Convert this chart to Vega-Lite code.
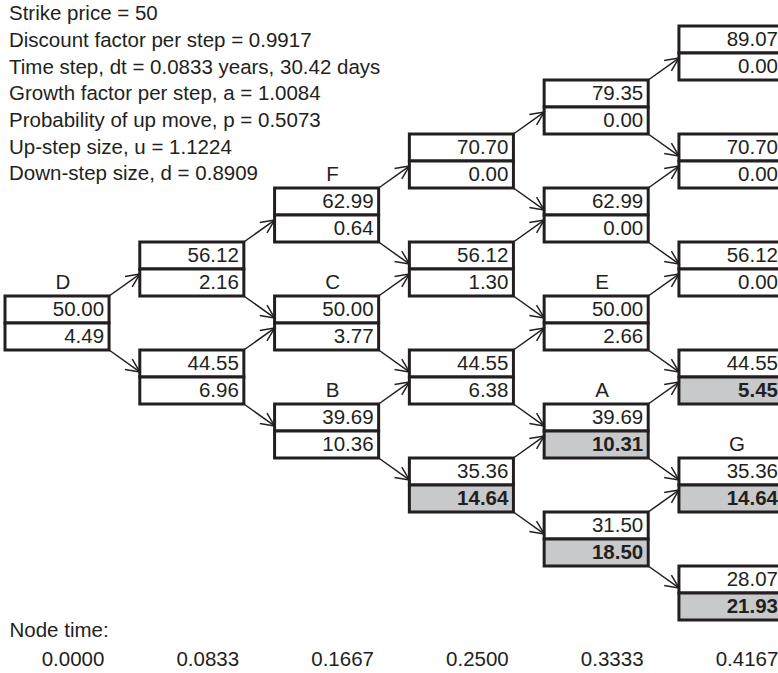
{
  "$schema": "https://vega.github.io/schema/vega-lite/v6.json",
  "width": 778,
  "height": 620,
  "autosize": "none",
  "padding": {"left": 0, "top": 0, "right": 0, "bottom": 53},
  "background": "white",
  "config": {"view": {"stroke": null}, "font": "Liberation Sans"},
  "title": {
    "text": ["Strike price = 50", "Discount factor per step = 0.9917", "Time step, dt = 0.0833 years, 30.42 days", "Growth factor per step, a = 1.0084", "Probability of up move, p = 0.5073", "Up-step size, u = 1.1224", "Down-step size, d = 0.8909"],
    "anchor": "start", "frame": "group", "orient": "top", "align": "left", "baseline": "top",
    "fontSize": 20.5, "fontWeight": "normal", "font": "Liberation Sans", "color": "#231f20",
    "lineHeight": 26.67, "offset": 0, "dx": 9, "dy": 185
  },
  "datasets": {
    "nodes": [
      {"t": "0.0000", "row": 5, "S": 50.00, "V": 4.49, "ex": false, "name": "D"},
      {"t": "0.0833", "row": 4, "S": 56.12, "V": 2.16, "ex": false, "name": null},
      {"t": "0.0833", "row": 6, "S": 44.55, "V": 6.96, "ex": false, "name": null},
      {"t": "0.1667", "row": 3, "S": 62.99, "V": 0.64, "ex": false, "name": "F"},
      {"t": "0.1667", "row": 5, "S": 50.00, "V": 3.77, "ex": false, "name": "C"},
      {"t": "0.1667", "row": 7, "S": 39.69, "V": 10.36, "ex": false, "name": "B"},
      {"t": "0.2500", "row": 2, "S": 70.70, "V": 0.00, "ex": false, "name": null},
      {"t": "0.2500", "row": 4, "S": 56.12, "V": 1.30, "ex": false, "name": null},
      {"t": "0.2500", "row": 6, "S": 44.55, "V": 6.38, "ex": false, "name": null},
      {"t": "0.2500", "row": 8, "S": 35.36, "V": 14.64, "ex": true, "name": null},
      {"t": "0.3333", "row": 1, "S": 79.35, "V": 0.00, "ex": false, "name": null},
      {"t": "0.3333", "row": 3, "S": 62.99, "V": 0.00, "ex": false, "name": null},
      {"t": "0.3333", "row": 5, "S": 50.00, "V": 2.66, "ex": false, "name": "E"},
      {"t": "0.3333", "row": 7, "S": 39.69, "V": 10.31, "ex": true, "name": "A"},
      {"t": "0.3333", "row": 9, "S": 31.50, "V": 18.50, "ex": true, "name": null},
      {"t": "0.4167", "row": 0, "S": 89.07, "V": 0.00, "ex": false, "name": null},
      {"t": "0.4167", "row": 2, "S": 70.70, "V": 0.00, "ex": false, "name": null},
      {"t": "0.4167", "row": 4, "S": 56.12, "V": 0.00, "ex": false, "name": null},
      {"t": "0.4167", "row": 6, "S": 44.55, "V": 5.45, "ex": true, "name": null},
      {"t": "0.4167", "row": 8, "S": 35.36, "V": 14.64, "ex": true, "name": "G"},
      {"t": "0.4167", "row": 10, "S": 28.07, "V": 21.93, "ex": true, "name": null}
    ],
    "edges": [
      {"from_t": "0.0000", "from_row": 5, "to_t": "0.0833", "to_row": 4},
      {"from_t": "0.0000", "from_row": 5, "to_t": "0.0833", "to_row": 6},
      {"from_t": "0.0833", "from_row": 4, "to_t": "0.1667", "to_row": 3},
      {"from_t": "0.0833", "from_row": 4, "to_t": "0.1667", "to_row": 5},
      {"from_t": "0.0833", "from_row": 6, "to_t": "0.1667", "to_row": 5},
      {"from_t": "0.0833", "from_row": 6, "to_t": "0.1667", "to_row": 7},
      {"from_t": "0.1667", "from_row": 3, "to_t": "0.2500", "to_row": 2},
      {"from_t": "0.1667", "from_row": 3, "to_t": "0.2500", "to_row": 4},
      {"from_t": "0.1667", "from_row": 5, "to_t": "0.2500", "to_row": 4},
      {"from_t": "0.1667", "from_row": 5, "to_t": "0.2500", "to_row": 6},
      {"from_t": "0.1667", "from_row": 7, "to_t": "0.2500", "to_row": 6},
      {"from_t": "0.1667", "from_row": 7, "to_t": "0.2500", "to_row": 8},
      {"from_t": "0.2500", "from_row": 2, "to_t": "0.3333", "to_row": 1},
      {"from_t": "0.2500", "from_row": 2, "to_t": "0.3333", "to_row": 3},
      {"from_t": "0.2500", "from_row": 4, "to_t": "0.3333", "to_row": 3},
      {"from_t": "0.2500", "from_row": 4, "to_t": "0.3333", "to_row": 5},
      {"from_t": "0.2500", "from_row": 6, "to_t": "0.3333", "to_row": 5},
      {"from_t": "0.2500", "from_row": 6, "to_t": "0.3333", "to_row": 7},
      {"from_t": "0.2500", "from_row": 8, "to_t": "0.3333", "to_row": 7},
      {"from_t": "0.2500", "from_row": 8, "to_t": "0.3333", "to_row": 9},
      {"from_t": "0.3333", "from_row": 1, "to_t": "0.4167", "to_row": 0},
      {"from_t": "0.3333", "from_row": 1, "to_t": "0.4167", "to_row": 2},
      {"from_t": "0.3333", "from_row": 3, "to_t": "0.4167", "to_row": 2},
      {"from_t": "0.3333", "from_row": 3, "to_t": "0.4167", "to_row": 4},
      {"from_t": "0.3333", "from_row": 5, "to_t": "0.4167", "to_row": 4},
      {"from_t": "0.3333", "from_row": 5, "to_t": "0.4167", "to_row": 6},
      {"from_t": "0.3333", "from_row": 7, "to_t": "0.4167", "to_row": 6},
      {"from_t": "0.3333", "from_row": 7, "to_t": "0.4167", "to_row": 8},
      {"from_t": "0.3333", "from_row": 9, "to_t": "0.4167", "to_row": 8},
      {"from_t": "0.3333", "from_row": 9, "to_t": "0.4167", "to_row": 10}
    ]
  },
  "layer": [
    {
      "data": {"name": "nodes"},
      "transform": [{"fold": ["S", "V"], "as": ["part", "val"]}],
      "mark": {"type": "rect", "stroke": "#231f20", "strokeWidth": 3},
      "encoding": {
        "x": {
          "field": "t", "type": "ordinal",
          "scale": {"domain": ["0.0000", "0.0833", "0.1667", "0.2500", "0.3333", "0.4167"], "range": [5, 783], "paddingInner": 0.228, "paddingOuter": 0},
          "axis": {
            "title": "Node time:", "orient": "bottom", "domain": false, "ticks": false, "grid": false,
            "labelAngle": 0, "labelFontSize": 20.5, "labelFont": "Liberation Sans", "labelColor": "#231f20",
            "labelPadding": 39, "labelBaseline": "middle", "labelOffset": 16, "labelOverlap": false,
            "titleFontSize": 20.5, "titleFont": "Liberation Sans", "titleFontWeight": "normal", "titleColor": "#231f20",
            "titleAnchor": "start", "titleAlign": "left", "titleBaseline": "middle", "titleX": 9, "titleY": 10
          }
        },
        "y": {
          "field": "row", "type": "ordinal",
          "scale": {"domain": [0, 1, 2, 3, 4, 5, 6, 7, 8, 9, 10], "range": [26, 620], "paddingInner": 0, "paddingOuter": 0},
          "axis": null
        },
        "yOffset": {"field": "part", "type": "nominal", "scale": {"domain": ["S", "V"], "paddingInner": 0, "paddingOuter": 0}},
        "fill": {"condition": {"test": "datum.part === 'V' && datum.ex", "value": "#c8c9cb"}, "value": "white"}
      }
    },
    {
      "data": {"name": "nodes"},
      "mark": {"type": "text", "align": "right", "baseline": "middle", "dx": -5, "fontSize": 20.5, "font": "Liberation Sans", "color": "#231f20"},
      "encoding": {
        "x": {"field": "t", "type": "ordinal", "bandPosition": 1},
        "y": {"field": "row", "type": "ordinal", "bandPosition": 0.25},
        "text": {"field": "S", "type": "quantitative", "format": ".2f"}
      }
    },
    {
      "data": {"name": "nodes"},
      "transform": [{"filter": "!datum.ex"}],
      "mark": {"type": "text", "align": "right", "baseline": "middle", "dx": -5, "fontSize": 20.5, "font": "Liberation Sans", "color": "#231f20"},
      "encoding": {
        "x": {"field": "t", "type": "ordinal", "bandPosition": 1},
        "y": {"field": "row", "type": "ordinal", "bandPosition": 0.75},
        "text": {"field": "V", "type": "quantitative", "format": ".2f"}
      }
    },
    {
      "data": {"name": "nodes"},
      "transform": [{"filter": "datum.ex"}],
      "mark": {"type": "text", "align": "right", "baseline": "middle", "dx": -5, "fontSize": 20.5, "fontWeight": "bold", "font": "Liberation Sans", "color": "#231f20"},
      "encoding": {
        "x": {"field": "t", "type": "ordinal", "bandPosition": 1},
        "y": {"field": "row", "type": "ordinal", "bandPosition": 0.75},
        "text": {"field": "V", "type": "quantitative", "format": ".2f"}
      }
    },
    {
      "data": {"name": "nodes"},
      "transform": [{"filter": "isValid(datum.name)"}],
      "mark": {"type": "text", "align": "center", "baseline": "middle", "dx": 6, "dy": -13, "fontSize": 20.5, "font": "Liberation Sans", "color": "#231f20"},
      "encoding": {
        "x": {"field": "t", "type": "ordinal"},
        "y": {"field": "row", "type": "ordinal", "bandPosition": 0},
        "text": {"field": "name", "type": "nominal"}
      }
    },
    {
      "data": {"name": "edges"},
      "transform": [{"filter": "datum.to_row < datum.from_row"}],
      "mark": {"type": "rule", "stroke": "#231f20", "strokeWidth": 1.5},
      "encoding": {
        "x": {"field": "from_t", "type": "ordinal", "bandPosition": 1},
        "x2": {"field": "to_t", "bandPosition": 0},
        "y": {"field": "from_row", "type": "ordinal", "bandPosition": 0},
        "y2": {"field": "to_row", "bandPosition": 0.593}
      }
    },
    {
      "data": {"name": "edges"},
      "transform": [{"filter": "datum.to_row > datum.from_row"}],
      "mark": {"type": "rule", "stroke": "#231f20", "strokeWidth": 1.5},
      "encoding": {
        "x": {"field": "from_t", "type": "ordinal", "bandPosition": 1},
        "x2": {"field": "to_t", "bandPosition": 0},
        "y": {"field": "from_row", "type": "ordinal", "bandPosition": 1},
        "y2": {"field": "to_row", "bandPosition": 0.407}
      }
    },
    {
      "data": {"name": "edges"},
      "transform": [{"filter": "datum.to_row < datum.from_row"}],
      "mark": {"type": "point", "shape": "M-0.906,-0.423L0,0L-0.906,0.423", "size": 900, "angle": -34.7, "filled": false, "stroke": "#231f20", "strokeWidth": 1.5, "opacity": 1},
      "encoding": {
        "x": {"field": "to_t", "type": "ordinal", "bandPosition": 0},
        "y": {"field": "to_row", "type": "ordinal", "bandPosition": 0.593}
      }
    },
    {
      "data": {"name": "edges"},
      "transform": [{"filter": "datum.to_row > datum.from_row"}],
      "mark": {"type": "point", "shape": "M-0.906,-0.423L0,0L-0.906,0.423", "size": 900, "angle": 34.7, "filled": false, "stroke": "#231f20", "strokeWidth": 1.5, "opacity": 1},
      "encoding": {
        "x": {"field": "to_t", "type": "ordinal", "bandPosition": 0},
        "y": {"field": "to_row", "type": "ordinal", "bandPosition": 0.407}
      }
    }
  ]
}
